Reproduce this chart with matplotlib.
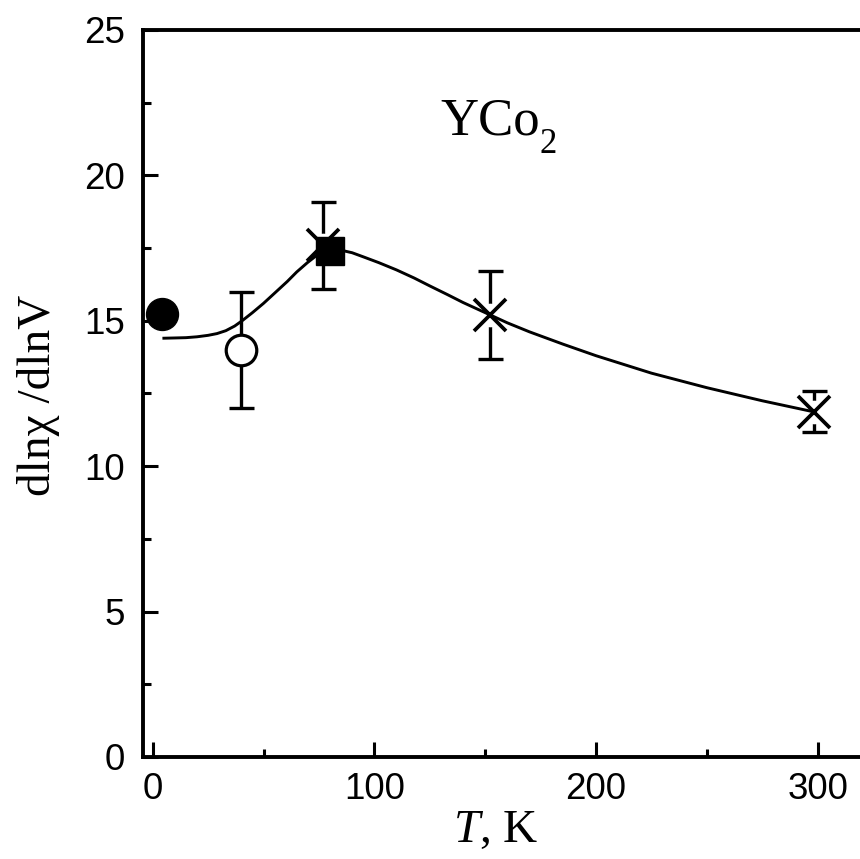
import matplotlib
matplotlib.use("Agg")
import matplotlib.pyplot as plt
from matplotlib.ticker import MultipleLocator

plt.rcParams['mathtext.fontset'] = 'custom'
plt.rcParams['mathtext.rm'] = 'Liberation Serif'
plt.rcParams['mathtext.it'] = 'Liberation Serif:italic'
plt.rcParams['font.family'] = ['Liberation Sans', 'DejaVu Sans']

# ---- data ----
T_solid_circle = [4.3]
chi_solid_circle = [15.25]

T_open_circle = [39.8]
chi_open_circle = [14.0]
err_open_circle = [2.0]

T_cross = [77.0, 152.3, 298.2]
chi_cross = [17.6, 15.2, 11.87]
err_cross = [1.5, 1.5, 0.7]

T_square = [80.0]
chi_square = [17.4]

curve_T = [4.4, 10, 15, 20, 25, 29, 33, 37, 40.5, 45, 50, 55, 60.7, 65, 69.8, 73.5,
           77, 80, 83, 86, 90, 95, 102, 110, 118, 125, 133, 140, 146, 152.3, 160,
           170, 185, 200, 225, 250, 275, 298.2]
curve_chi = [14.4, 14.41, 14.42, 14.45, 14.5, 14.56, 14.66, 14.82, 15.01, 15.28, 15.6,
             15.95, 16.35, 16.68, 17.0, 17.22, 17.37, 17.44, 17.45, 17.41, 17.34,
             17.2, 17.0, 16.75, 16.47, 16.2, 15.9, 15.63, 15.42, 15.2, 14.93, 14.62,
             14.2, 13.8, 13.2, 12.7, 12.25, 11.87]

x_ticks = [0, 100, 200, 300]
y_ticks = [0, 5, 10, 15, 20, 25]

fig = plt.figure(figsize=(8.6, 8.59), dpi=100)
ax = fig.add_axes([142.7 / 860, 102 / 859, (860 - 142.7) / 860, 727 / 859])

# error bars with white gap behind markers
ax.errorbar(T_open_circle, chi_open_circle, yerr=err_open_circle, fmt='o', ms=17,
            mfc='white', mec='none', ecolor='black', elinewidth=2.4, capsize=9,
            capthick=2.4, zorder=2)
ax.errorbar(T_cross, chi_cross, yerr=err_cross, fmt='o', ms=17,
            mfc='white', mec='none', ecolor='black', elinewidth=2.4, capsize=9,
            capthick=2.4, zorder=2)

# fitted curve
ax.plot(curve_T, curve_chi, color='black', lw=2.1, zorder=3, solid_capstyle='butt',
        solid_joinstyle='round')

# markers
ax.plot(T_cross, chi_cross, ls='none', marker='x', ms=23, mew=2.7, color='black', zorder=4)
ax.plot(T_open_circle, chi_open_circle, ls='none', marker='o', ms=22, mfc='white',
        mec='black', mew=2.3, zorder=4)
ax.plot(T_solid_circle, chi_solid_circle, ls='none', marker='o', ms=23, color='black',
        zorder=5)
ax.plot(T_square, chi_square, ls='none', marker='s', ms=19.5, color='black', zorder=5)

ax.set_xlim(-4.5, 319.1)
ax.set_ylim(0, 25)
ax.set_xticks(x_ticks)
ax.set_yticks(y_ticks)
ax.xaxis.set_minor_locator(MultipleLocator(50))
ax.yaxis.set_minor_locator(MultipleLocator(2.5))

for side in ['left', 'bottom', 'top']:
    ax.spines[side].set_linewidth(2.8)
ax.spines['right'].set_visible(False)

ax.tick_params(which='both', direction='in', top=False, right=False, width=2.2)
ax.tick_params(which='major', length=10.5)
ax.tick_params(which='minor', length=5.5)
ax.tick_params(axis='x', which='major', labelsize=26.5, pad=10.5)
ax.tick_params(axis='y', which='major', labelsize=26.5, pad=13)

ax.set_xlabel(r'$T$, K', fontsize=34, family='Liberation Serif', va='center')
ax.xaxis.set_label_coords(0.4925, -0.101)
ax.set_ylabel('dlnχ /dlnV', fontsize=34, family='Liberation Serif', va='center')
ax.yaxis.set_label_coords(-0.145, 0.498)

ax.text(129.6, 21.39, 'YCo', fontsize=38, family='Liberation Serif',
        ha='left', va='baseline')
ax.text(174.5, 20.77, '2', fontsize=25, family='Liberation Serif',
        ha='left', va='baseline')

fig.savefig('out.png', dpi=100)
